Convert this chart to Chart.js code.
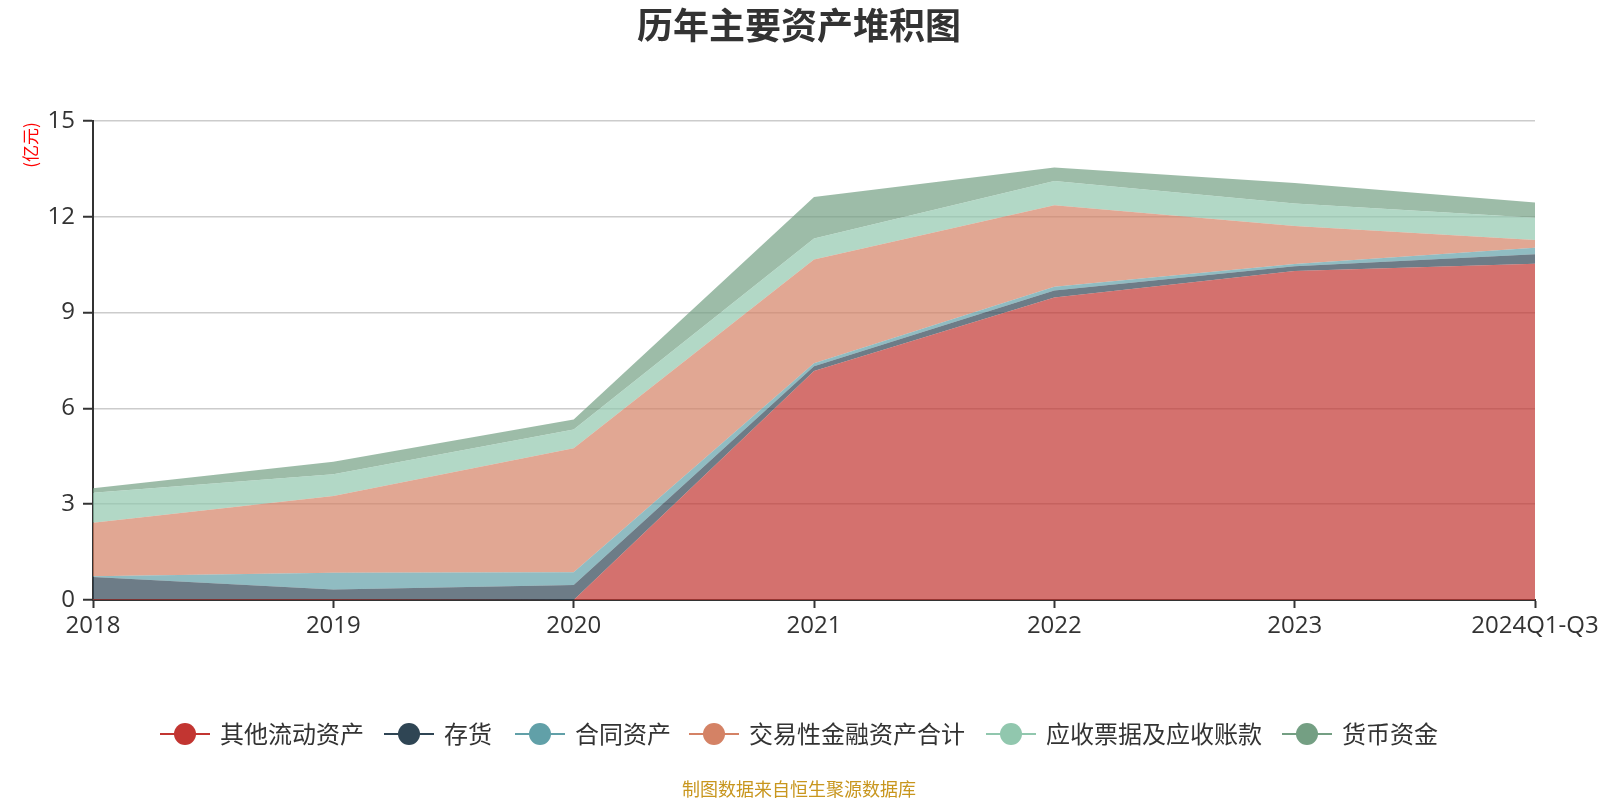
<!DOCTYPE html>
<html>
<head>
<meta charset="utf-8">
<script src="https://cdn.jsdelivr.net/npm/chart.js@4.4.1/dist/chart.umd.min.js"></script>
<style>
html,body{margin:0;padding:0;background:#fff;}
#wrap{width:1600px;height:800px;position:relative;}
</style>
</head>
<body>
<div id="wrap"><canvas id="c" width="1600" height="800"></canvas></div>
<script>
const categories = ["2018","2019","2020","2021","2022","2023","2024Q1-Q3"];
const otherCurrent = [0.02, 0.02, 0.00, 7.17, 9.47, 10.30, 10.53];
const inventory    = [0.70, 0.31, 0.47, 0.15, 0.22, 0.15, 0.30];
const contractAsset= [0.02, 0.52, 0.40, 0.09, 0.12, 0.07, 0.20];
const tradingFin   = [1.68, 2.41, 3.88, 3.25, 2.55, 1.19, 0.24];
const receivables  = [0.94, 0.68, 0.59, 0.66, 0.76, 0.71, 0.70];
const cash         = [0.14, 0.39, 0.31, 1.30, 0.42, 0.64, 0.48];
const yTicks = [0, 3, 6, 9, 12, 15];

const seriesNames = ["其他流动资产","存货","合同资产","交易性金融资产合计","应收票据及应收账款","货币资金"];
const seriesData = [otherCurrent, inventory, contractAsset, tradingFin, receivables, cash];
const colors = ["#c23531","#2f4554","#61a0a8","#d48265","#91c7ae","#749f83"];

function rgba(hex, a){
  const n = parseInt(hex.slice(1),16);
  return `rgba(${(n>>16)&255},${(n>>8)&255},${n&255},${a})`;
}

const FONT = '"Open Sans", "Noto Sans CJK SC", sans-serif';
const CJK = '"Noto Sans CJK SC", sans-serif';

const datasets = seriesNames.map((name,i)=>({
  label: name,
  data: seriesData[i],
  backgroundColor: rgba(colors[i],0.7),
  borderColor: colors[i],
  borderWidth: 0,
  pointRadius: 0,
  pointHoverRadius: 0,
  tension: 0,
  fill: i===0 ? 'origin' : '-1'
}));

const decor = {
  id:'decor',
  afterDraw(chart){
    const ctx = chart.ctx;
    ctx.save();
    // title
    ctx.fillStyle = '#333';
    ctx.font = 'bold 36px ' + CJK;
    ctx.textAlign = 'center';
    ctx.textBaseline = 'middle';
    ctx.fillText('历年主要资产堆积图', 799, 25);
    // unit label
    ctx.save();
    ctx.translate(31, 145);
    ctx.rotate(-Math.PI/2);
    ctx.fillStyle = '#ff0000';
    ctx.font = '17px ' + CJK;
    ctx.textAlign = 'center';
    ctx.textBaseline = 'middle';
    ctx.fillText('(亿元)', 0, 0);
    ctx.restore();
    // legend
    const centers = [185, 409, 540, 714, 1011, 1307];
    const y = 734;
    ctx.font = '24px ' + CJK;
    ctx.textAlign = 'left';
    ctx.textBaseline = 'middle';
    chart.data.datasets.forEach((ds,i)=>{
      const cx = centers[i];
      ctx.strokeStyle = colors[i];
      ctx.lineWidth = 2;
      ctx.beginPath();
      ctx.moveTo(cx-25, y); ctx.lineTo(cx+25, y); ctx.stroke();
      ctx.fillStyle = colors[i];
      ctx.beginPath();
      ctx.arc(cx, y, 11, 0, Math.PI*2); ctx.fill();
      ctx.fillStyle = '#333';
      ctx.fillText(ds.label, cx+35, y);
    });
    // footer
    ctx.fillStyle = '#c8961e';
    ctx.font = '18px ' + CJK;
    ctx.textAlign = 'center';
    ctx.fillText('制图数据来自恒生聚源数据库', 799, 789);
    ctx.restore();
  }
};

new Chart(document.getElementById('c'), {
  type: 'line',
  data: { labels: categories, datasets },
  options: {
    responsive: false,
    animation: false,
    devicePixelRatio: 1,
    layout: { padding: { left: 0, right: 65, top: 121, bottom: 0 } },
    plugins: { legend: { display: false }, title: { display: false }, tooltip: { enabled: false } },
    scales: {
      x: {
        offset: false,
        grid: { drawOnChartArea: false, drawTicks: true, tickLength: 8, tickColor: '#333', tickWidth: 2 },
        border: { color: '#333', width: 2 },
        ticks: { color: '#333', font: { size: 24, family: FONT }, padding: 4, maxRotation: 0, autoSkip: false },
        afterFit(scale){ scale.height = 200; scale.paddingLeft = 0; scale.paddingRight = 0; }
      },
      y: {
        stacked: true,
        min: 0, max: 15,
        afterBuildTicks(scale){ scale.ticks = yTicks.map(v=>({value:v})); },
        grid: { color: '#cccccc', lineWidth: 1.5, drawTicks: true, tickLength: 10, tickColor: '#333', tickWidth: 2 },
        border: { color: '#333', width: 2 },
        ticks: { color: '#333', font: { size: 24, family: FONT }, padding: 8 },
        afterFit(scale){ scale.width = 93; }
      }
    }
  },
  plugins: [decor]
});
</script>
</body>
</html>
